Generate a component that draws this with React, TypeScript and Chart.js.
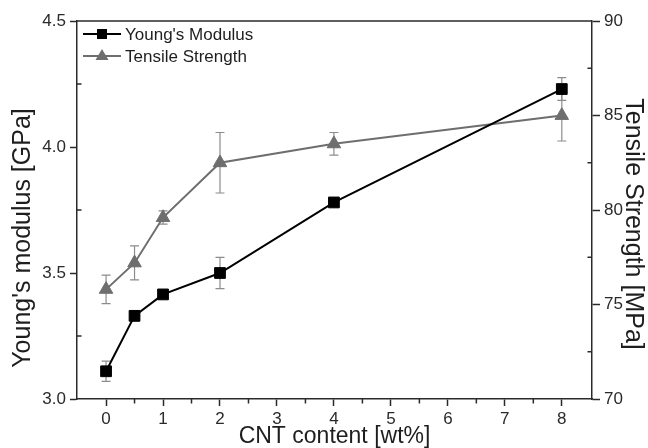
import React, { useEffect, useRef } from "react";
import { Chart, registerables } from "chart.js";

Chart.register(...registerables);

// ---- data ----
const cntContent = [0, 0.5, 1, 2, 4, 8];
const youngsModulus = [3.11, 3.33, 3.415, 3.5, 3.78, 4.23];
const youngsError = [0.04, 0.02, 0.01, 0.062, 0.01, 0.045];
const tensileStrength = [75.8, 77.2, 79.6, 82.5, 83.5, 85.0];
const tensileError = [0.75, 0.9, 0.35, 1.6, 0.6, 1.35];

const xTickValues = [0, 1, 2, 3, 4, 5, 6, 7, 8];
const xMinorTicks = [0.5, 1.5, 2.5, 3.5, 4.5, 5.5, 6.5, 7.5];
const yLeftMinorTicks = [3.25, 3.75, 4.25];
const yRightMinorTicks = [72.5, 77.5, 82.5, 87.5];

const seriesNames = ["Young's Modulus", "Tensile Strength"];
const axisTitles = {
  x: "CNT content [wt%]",
  yLeft: "Young's modulus [GPa]",
  yRight: "Tensile Strength [MPa]",
};

const FONT = "'Liberation Sans', Arial, Helvetica, sans-serif";
const AXIS_COLOR = "#2a2a2a";
const GRAY = "#6e6e6e";
const ERR_COLOR = "#8c8c8c";

const errorBarsPlugin = {
  id: "errorBars",
  beforeDatasetsDraw(chart: any) {
    const ctx = chart.ctx;
    const errs = [youngsError, tensileError];
    chart.data.datasets.forEach((ds: any, i: number) => {
      const meta = chart.getDatasetMeta(i);
      const yScale = chart.scales[ds.yAxisID];
      ctx.save();
      ctx.strokeStyle = ERR_COLOR;
      ctx.lineWidth = 1.2;
      meta.data.forEach((pt: any, j: number) => {
        const v = ds.data[j].y;
        const e = errs[i][j];
        const yTop = yScale.getPixelForValue(v + e);
        const yBot = yScale.getPixelForValue(v - e);
        const x = pt.x;
        ctx.beginPath();
        ctx.moveTo(x, yTop);
        ctx.lineTo(x, yBot);
        ctx.moveTo(x - 4.5, yTop);
        ctx.lineTo(x + 4.5, yTop);
        ctx.moveTo(x - 4.5, yBot);
        ctx.lineTo(x + 4.5, yBot);
        ctx.stroke();
      });
      ctx.restore();
    });
  },
};

const decorPlugin = {
  id: "decor",
  afterDraw(chart: any) {
    const ctx = chart.ctx;
    const { left, right, top, bottom } = chart.chartArea;
    const xs = chart.scales.x;
    const yl = chart.scales.y;
    const yr = chart.scales.y2;
    ctx.save();
    ctx.strokeStyle = AXIS_COLOR;
    ctx.lineWidth = 1.5;
    // top frame line
    ctx.beginPath();
    ctx.moveTo(left, top);
    ctx.lineTo(right, top);
    ctx.stroke();
    // minor ticks
    ctx.beginPath();
    xMinorTicks.forEach((v) => {
      const x = xs.getPixelForValue(v);
      ctx.moveTo(x, bottom);
      ctx.lineTo(x, bottom + 4.5);
    });
    yLeftMinorTicks.forEach((v) => {
      const y = yl.getPixelForValue(v);
      ctx.moveTo(left, y);
      ctx.lineTo(left + 4.5, y);
    });
    yRightMinorTicks.forEach((v) => {
      const y = yr.getPixelForValue(v);
      ctx.moveTo(right, y);
      ctx.lineTo(right - 4.5, y);
    });
    ctx.stroke();

    // y-axis titles
    ctx.fillStyle = "#1e1e1e";
    ctx.font = `25px ${FONT}`;
    ctx.textAlign = "center";
    ctx.textBaseline = "middle";
    ctx.save();
    ctx.translate(23, 238);
    ctx.rotate(-Math.PI / 2);
    ctx.fillText(axisTitles.yLeft, 0, 0);
    ctx.restore();
    ctx.save();
    ctx.translate(633, 224);
    ctx.rotate(Math.PI / 2);
    ctx.fillText(axisTitles.yRight, 0, 0);
    ctx.restore();

    // legend
    const lx0 = left + 6;
    const lx1 = left + 44;
    const rows = [top + 13, top + 35];
    ctx.font = `17px ${FONT}`;
    ctx.textAlign = "left";
    ctx.textBaseline = "middle";
    // row 1
    ctx.strokeStyle = "#000";
    ctx.lineWidth = 2;
    ctx.beginPath();
    ctx.moveTo(lx0, rows[0]);
    ctx.lineTo(lx1, rows[0]);
    ctx.stroke();
    ctx.fillStyle = "#000";
    ctx.fillRect((lx0 + lx1) / 2 - 5, rows[0] - 5, 10, 10);
    ctx.fillStyle = "#1e1e1e";
    ctx.fillText(seriesNames[0], lx1 + 4, rows[0] + 1);
    // row 2
    ctx.strokeStyle = GRAY;
    ctx.beginPath();
    ctx.moveTo(lx0, rows[1]);
    ctx.lineTo(lx1, rows[1]);
    ctx.stroke();
    const cx = (lx0 + lx1) / 2;
    ctx.fillStyle = GRAY;
    ctx.beginPath();
    ctx.moveTo(cx, rows[1] - 7);
    ctx.lineTo(cx + 6.5, rows[1] + 4);
    ctx.lineTo(cx - 6.5, rows[1] + 4);
    ctx.closePath();
    ctx.fill();
    ctx.fillStyle = "#1e1e1e";
    ctx.fillText(seriesNames[1], lx1 + 4, rows[1] + 1);
    ctx.restore();
  },
};

export default function App() {
  const canvasRef = useRef<HTMLCanvasElement | null>(null);

  useEffect(() => {
    if (!canvasRef.current) return;
    const chart = new Chart(canvasRef.current, {
      type: "line",
      data: {
        datasets: [
          {
            label: seriesNames[0],
            data: cntContent.map((x, i) => ({ x, y: youngsModulus[i] })),
            yAxisID: "y",
            borderColor: "#000",
            backgroundColor: "#000",
            borderWidth: 2,
            pointStyle: "rect",
            pointRadius: 7.6,
            pointBorderWidth: 1,
            pointBackgroundColor: "#000",
            pointBorderColor: "#000",
            tension: 0,
          },
          {
            label: seriesNames[1],
            data: cntContent.map((x, i) => ({ x, y: tensileStrength[i] })),
            yAxisID: "y2",
            borderColor: GRAY,
            backgroundColor: GRAY,
            borderWidth: 2,
            pointStyle: "triangle",
            pointRadius: 7.8,
            pointBorderWidth: 1,
            pointBackgroundColor: GRAY,
            pointBorderColor: GRAY,
            tension: 0,
          },
        ],
      },
      options: {
        responsive: false,
        animation: false,
        devicePixelRatio: 1,
        layout: { padding: { top: 21, left: 0, right: 0, bottom: 0 } },
        plugins: {
          legend: { display: false },
          tooltip: { enabled: false },
        },
        scales: {
          x: {
            type: "linear",
            min: -0.51,
            max: 8.53,
            afterBuildTicks: (scale: any) => {
              scale.ticks = xTickValues.map((v) => ({ value: v }));
            },
            afterFit: (scale: any) => {
              scale.height = 49;
            },
            grid: {
              display: true,
              drawOnChartArea: false,
              tickLength: 7,
              tickColor: AXIS_COLOR,
              tickWidth: 1.5,
            },
            border: { display: true, color: AXIS_COLOR, width: 1.5 },
            ticks: {
              font: { family: FONT, size: 17 },
              color: "#2a2a2a",
              padding: 3,
              maxRotation: 0,
              autoSkip: false,
              callback: (v: any) => String(v),
            },
            title: {
              display: true,
              text: axisTitles.x,
              font: { family: FONT, size: 23, lineHeight: 1.0 },
              color: "#1e1e1e",
              padding: { top: 0, bottom: 0 },
            },
          },
          y: {
            type: "linear",
            position: "left",
            min: 3.0,
            max: 4.5,
            afterFit: (scale: any) => {
              scale.width = 77;
            },
            grid: {
              display: true,
              drawOnChartArea: false,
              tickLength: 7,
              tickColor: AXIS_COLOR,
              tickWidth: 1.5,
            },
            border: { display: true, color: AXIS_COLOR, width: 1.5 },
            ticks: {
              stepSize: 0.5,
              font: { family: FONT, size: 17 },
              color: "#2a2a2a",
              padding: 4,
              callback: (v: any) => Number(v).toFixed(1),
            },
          },
          y2: {
            type: "linear",
            position: "right",
            min: 70,
            max: 90,
            afterFit: (scale: any) => {
              scale.width = 56;
            },
            grid: {
              display: true,
              drawOnChartArea: false,
              tickLength: 8,
              tickColor: AXIS_COLOR,
              tickWidth: 1.5,
            },
            border: { display: true, color: AXIS_COLOR, width: 1.5 },
            ticks: {
              stepSize: 5,
              font: { family: FONT, size: 17 },
              color: "#2a2a2a",
              padding: 4,
              callback: (v: any) => String(v),
            },
          },
        },
      },
      plugins: [errorBarsPlugin, decorPlugin],
    });
    return () => chart.destroy();
  }, []);

  return (
    <div style={{ position: "absolute", left: 0, top: 0, width: 648, height: 448, background: "#fff" }}>
      <canvas ref={canvasRef} width={648} height={448} style={{ display: "block" }} />
    </div>
  );
}
